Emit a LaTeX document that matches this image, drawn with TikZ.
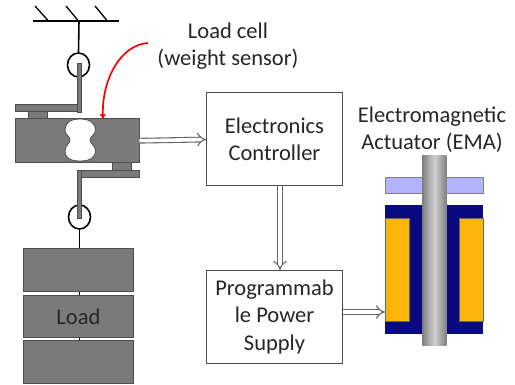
\documentclass[tikz,border=0pt]{standalone}
\usepackage{fontspec}
\setmainfont{Carlito}
\usetikzlibrary{positioning,arrows.meta,shapes.geometric}
\definecolor{slab}{HTML}{7A7A7A}
\definecolor{slabline}{HTML}{4D4D4D}
\definecolor{corenavy}{HTML}{0A0A80}
\definecolor{coilamber}{HTML}{FFB30D}
\definecolor{platelav}{HTML}{B3B3FF}
\begin{document}
\begin{tikzpicture}[x=1pt,y=-1pt,
  caption/.style={font=\fontsize{22.5}{27.5}\selectfont,align=center,text=black!85},
  block/.style={draw=black!70,line width=1pt,fill=white,minimum width=135.5pt,minimum height=93pt,inner sep=0pt,caption},
  part/.style={draw=slabline,line width=.9pt,fill=slab,inner sep=0pt,anchor=north west},
  ring/.style={ellipse,draw=black,line width=1.6pt,minimum width=22pt,minimum height=24pt,inner sep=0pt},
  rod/.style={black,line width=1.6pt},
  hollow/.style={draw=black!60,double=white,line width=1.1pt,double distance=3.6pt,-{Implies[length=5pt,width=11pt]}}]
\useasboundingbox (0,0) rectangle (515,385);
% hanger
\draw[rod] (33,21) -- (119,21);
\foreach \xa/\xb in {35/48,66/78,95/107} \draw[black,line width=1.3pt] (\xa,6) -- (\xb,20.5);
\coordinate (roof) at (79,21);
\node (ringtop) [ring] at (78.5,65) {};
\draw[rod] (roof) -- (ringtop.north);
\node (armtop) [part,minimum width=66pt,minimum height=7pt] at (15,104) {};
\node (stemtop) [part,minimum width=4pt,minimum height=49pt] at (77,63) {};
\node (padtop) [part,minimum width=19pt,minimum height=7pt] at (27.5,111) {};
% load cell
\node (cell) [part,minimum width=124pt,minimum height=44.5pt] at (14.5,118) {};
\draw[slabline,fill=white,line width=.8pt] (80,119) .. controls (91,119) and (95.5,124) .. (95.5,130) .. controls (95.5,135) and (90,136) .. (90,140) .. controls (90,144) and (95.5,145) .. (95.5,151) .. controls (95.5,157) and (91,161) .. (80,161) .. controls (69,161) and (65,157) .. (65,151) .. controls (65,145) and (70,144) .. (70,140) .. controls (70,136) and (65,135) .. (65,130) .. controls (65,124) and (69,119) .. (80,119) -- cycle;
\node (padlow) [part,minimum width=19pt,minimum height=7.5pt] at (112,162.5) {};
\node (armlow) [part,minimum width=61pt,minimum height=7pt] at (78,170) {};
\node (ringlow) [ring] at (79.5,217) {};
\node (stemlow) [part,minimum width=4pt,minimum height=48pt] at (77,170) {};
% load
\node (loada) [part,minimum width=110pt,minimum height=43pt] at (23,248) {};
\node (loadb) [part,minimum width=110pt,minimum height=42pt,caption] at (23,295) {Load};
\node (loadc) [part,minimum width=110pt,minimum height=43pt] at (23,340) {};
\draw[rod] (ringlow.south) -- (ringlow.south |- loada.north);
\draw[rod] (ringlow.south |- loada.south) -- (ringlow.south |- loadb.north);
\draw[rod] (ringlow.south |- loadb.south) -- (ringlow.south |- loadc.north);
% texts
\node (celltext) [caption] at (228,46) {Load cell\\(weight sensor)};
\node (ematext) [caption] at (432,129.5) {Electromagnetic\\Actuator (EMA)};
\coordinate (redstart) at (148,43);
\draw[red,line width=1.7pt,-{Latex[length=6pt,width=6pt]}] (redstart) .. controls (120,45) and (102,80) .. (103,120);
% boxes
\node (ctrl) [block] at (274.5,139.5) {Electronics\\[-.5pt]Controller};
\node (supply) [block,below=83.5pt of ctrl] {Programmab\\le Power\\Supply};
% actuator
\fill[corenavy] (385,205) rectangle (483,334);
\node (coilleft) [part,draw=black!60,fill=coilamber,minimum width=24pt,minimum height=103pt] at (385,218) {};
\node (coilright) [part,draw=black!60,fill=coilamber,minimum width=24pt,minimum height=103pt] at (459,218) {};
\node (plate) [part,draw=black!50,fill=platelav,minimum width=98pt,minimum height=16pt] at (385,177) {};
\node (shaft) [part,draw=none,left color=black!50,right color=black!50,middle color=black!18,minimum width=24pt,minimum height=190pt] at (422,155) {};
% connections
\draw[hollow] (cell.east) -- (ctrl.west);
\draw[hollow] (ctrl.south -| 280,0) -- (supply.north -| 280,0);
\draw[hollow] (supply.east |- 0,312) -- (coilleft.west |- 0,312);
\end{tikzpicture}
\end{document}
